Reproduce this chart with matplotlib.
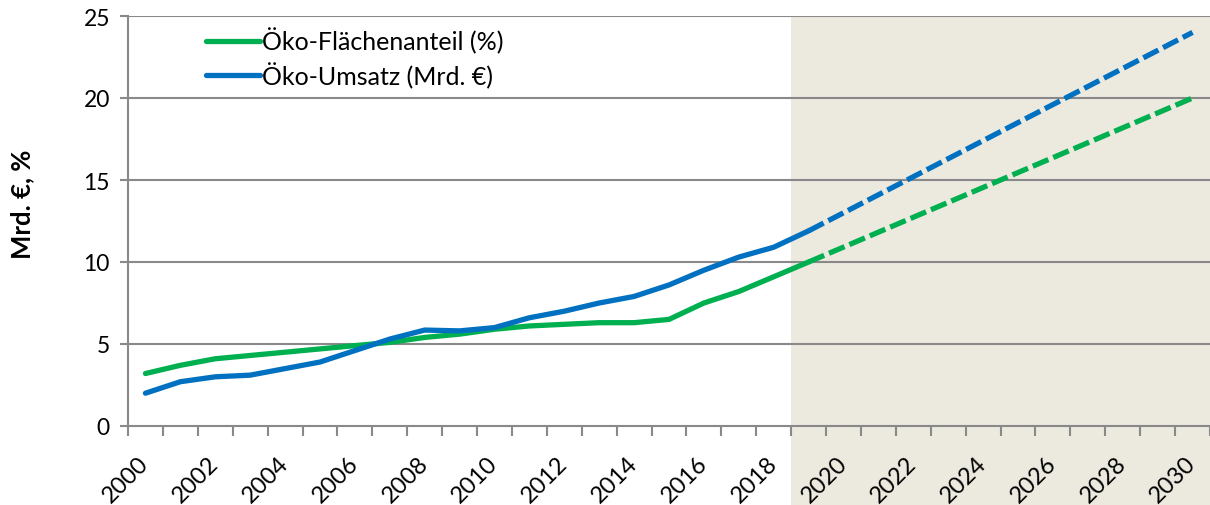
import matplotlib
matplotlib.use("Agg")
import matplotlib.pyplot as plt
from matplotlib.patches import Rectangle
from matplotlib.transforms import blended_transform_factory

years = list(range(2000, 2031))

# gemessene Werte 2000-2019
hist_years = list(range(2000, 2020))
flaeche = [3.2, 3.7, 4.1, 4.3, 4.5, 4.7, 4.9, 5.1, 5.4, 5.6,
           5.9, 6.1, 6.2, 6.3, 6.3, 6.5, 7.5, 8.2, 9.1, 10.0]
umsatz = [2.0, 2.7, 3.0, 3.1, 3.5, 3.9, 4.6, 5.3, 5.85, 5.8,
          6.0, 6.6, 7.0, 7.5, 7.9, 8.6, 9.5, 10.3, 10.9, 11.9]

# Ziel / Projektion
proj_years = [2019, 2030]
flaeche_proj = [10.0, 20.0]
umsatz_proj = [11.9, 24.0]

green = "#00b050"
blue = "#0070c0"
grid_col = "#898989"

plt.rcParams["font.family"] = ["Lato", "DejaVu Sans"]

fig = plt.figure(figsize=(12.1, 5.06), dpi=100)
ax = fig.add_axes([128 / 1210, 1 - 427 / 506, 1 - 128 / 1210, 410 / 506])

def pos(yrs):
    return [years.index(y) for y in yrs]

# Prognosebereich schattiert (bis unten ins Bild)
tr = blended_transform_factory(ax.transData, fig.transFigure)
ax.add_patch(Rectangle((18.5, 0), 12.5, 1 - 17 / 506, transform=tr,
                       facecolor="#ece9df", edgecolor="none",
                       clip_on=False, zorder=0))

for v in [5, 10, 15, 20, 25]:
    ax.axhline(v, color=grid_col, lw=1.5, zorder=1)

lw = 3.8
ax.plot(pos(hist_years), flaeche, color=green, lw=lw, solid_capstyle="round",
        label="Öko-Flächenanteil (%)", zorder=3)
ax.plot(pos(hist_years), umsatz, color=blue, lw=lw, solid_capstyle="round",
        label="Öko-Umsatz (Mrd. €)", zorder=3)
ax.plot(pos(proj_years), flaeche_proj, color=green, lw=lw, dashes=(3.2, 1.0),
        zorder=3)
ax.plot(pos(proj_years), umsatz_proj, color=blue, lw=lw, dashes=(3.2, 1.0),
        zorder=3)

ax.set_xlim(-0.5, len(years) - 0.5)
ax.set_ylim(0, 25)
ax.set_facecolor("none")

ax.set_yticks([0, 5, 10, 15, 20, 25])
ax.tick_params(axis="y", length=6, color=grid_col, width=1.5, labelsize=16.5, pad=7)

idx = list(range(0, len(years), 2))
ax.set_xticks(idx)
ax.set_xticklabels([str(years[i]) for i in idx], rotation=45, ha="right",
                   va="center", rotation_mode="anchor")
ax.tick_params(axis="x", which="major", length=0, labelsize=17, pad=24)
ax.set_xticks([i - 0.5 for i in range(len(years) + 1)], minor=True)
ax.tick_params(axis="x", which="minor", length=7, color=grid_col, width=1.5)

for s in ["top", "right"]:
    ax.spines[s].set_visible(False)
for s in ["left", "bottom"]:
    ax.spines[s].set_color(grid_col)
    ax.spines[s].set_linewidth(1.5)

ax.set_ylabel("Mrd. €, %", fontsize=18.5, fontweight="bold")
ax.yaxis.set_label_coords(-0.087, 0.544)

leg = ax.legend(loc="upper left", bbox_to_anchor=(0.058, 1.01), frameon=False,
                fontsize=18, handlelength=2.15, handletextpad=0.08,
                labelspacing=0.33, borderaxespad=0.2)

fig.savefig("out.png", dpi=100)
